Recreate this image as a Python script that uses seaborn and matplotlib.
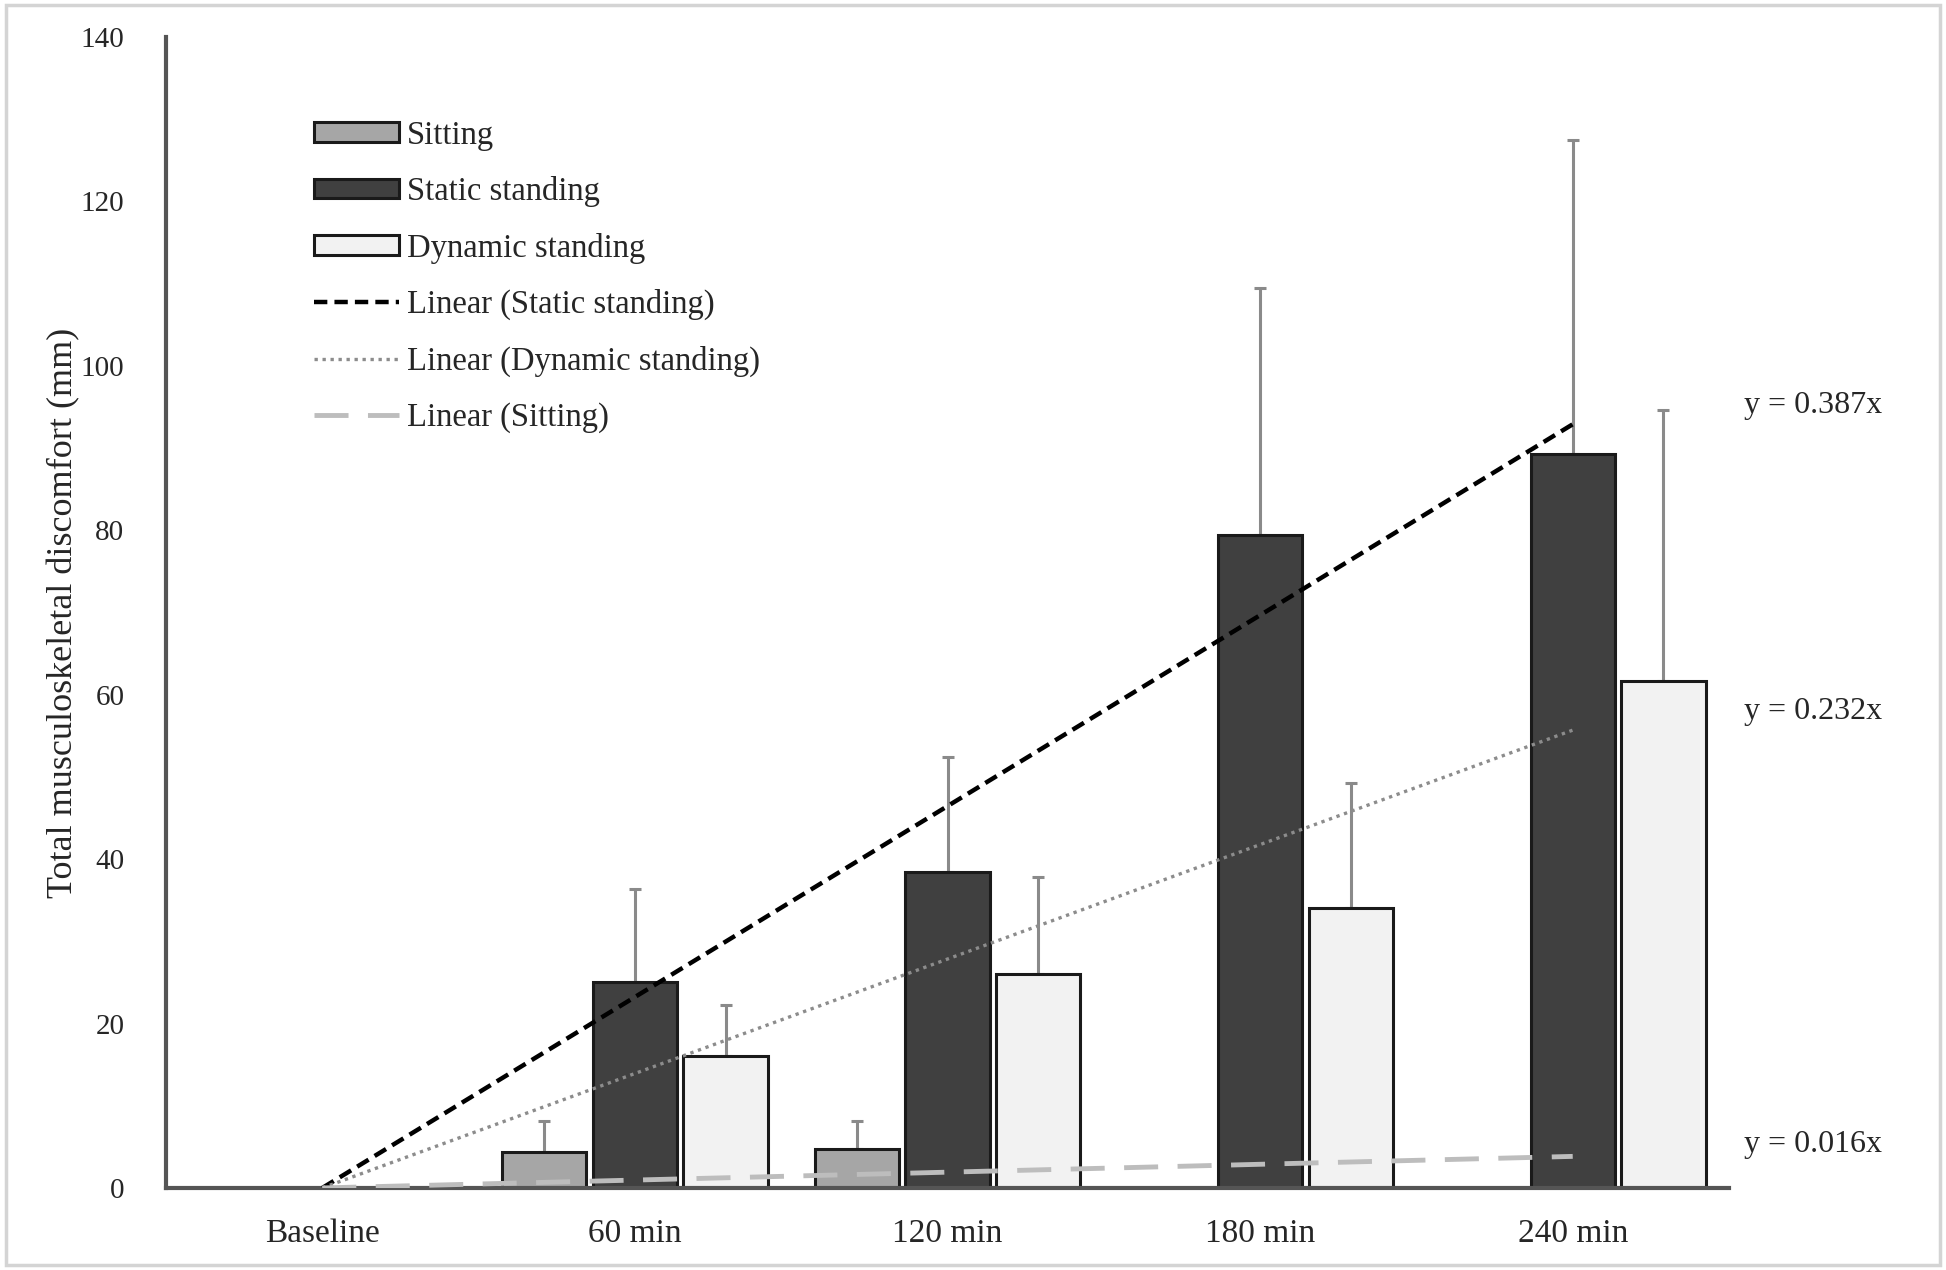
import numpy as np
import pandas as pd
import matplotlib
matplotlib.use("Agg")
import matplotlib.pyplot as plt
import seaborn as sns
from matplotlib.patches import Rectangle
from matplotlib.lines import Line2D
from matplotlib.patches import Patch

# ---------------- data ----------------
categories = ["Baseline", "60 min", "120 min", "180 min", "240 min"]
minutes = [0, 60, 120, 180, 240]
groups = ["Sitting", "Static standing", "Dynamic standing"]
sitting = [0.0, 4.4, 4.7, 0.0, 0.0]
sitting_err = [0.0, 3.8, 3.5, 0.0, 0.0]
static = [0.0, 25.0, 38.4, 79.4, 89.3]
static_err = [0.0, 11.4, 14.0, 30.0, 38.2]
dynamic = [0.0, 16.0, 26.0, 34.1, 61.6]
dynamic_err = [0.0, 6.2, 11.8, 15.2, 33.0]
slopes = {"Static standing": 0.387, "Dynamic standing": 0.232, "Sitting": 0.016}
equations = ["y = 0.387x", "y = 0.232x", "y = 0.016x"]
eq_y = [95.2, 57.9, 5.3]

# ---------------- style ----------------
sns.set_style("white")
plt.rcParams["font.family"] = ["Liberation Serif", "DejaVu Serif"]
text_col = "#262626"

df = pd.DataFrame({
    "time": np.repeat(categories, 3),
    "group": groups * len(categories),
    "value": [v for trip in zip(sitting, static, dynamic) for v in trip],
})

fill = {"Sitting": "#a6a6a6", "Static standing": "#404040", "Dynamic standing": "#f2f2f2"}

fig = plt.figure(figsize=(19.46, 12.70), dpi=100)
ax = fig.add_axes([0.0853, 0.0646, 0.8032, 0.9064])

sns.barplot(data=df, x="time", y="value", hue="group", order=categories,
            hue_order=groups, palette=fill, width=0.87, gap=0.07,
            edgecolor="#1a1a1a", linewidth=2.2, errorbar=None, ax=ax,
            legend=False, zorder=2)

# error bars (upper only)
errs = {"Sitting": sitting_err, "Static standing": static_err, "Dynamic standing": dynamic_err}
vals = {"Sitting": sitting, "Static standing": static, "Dynamic standing": dynamic}
for gi, (g, cont) in enumerate(zip(groups, ax.containers)):
    for i, bar in enumerate(cont):
        if errs[g][i] <= 0:
            continue
        xc = bar.get_x() + bar.get_width() / 2
        ax.errorbar(xc, vals[g][i], yerr=[[0], [errs[g][i]]], fmt="none",
                    ecolor="#8a8a8a", elinewidth=2.2, capsize=4, capthick=2.2,
                    zorder=1.5)

# trend lines
pos = np.arange(len(categories))
mins = np.array(minutes)
ax.plot(pos, slopes["Static standing"] * mins, color="black", lw=3.2,
        dashes=(3.0, 1.6), zorder=4)
ax.plot(pos, slopes["Dynamic standing"] * mins, color="#8c8c8c", lw=2.4,
        dashes=(1.0, 1.4), zorder=4)
ax.plot(pos, slopes["Sitting"] * mins, color="#bdbdbd", lw=3.5,
        dashes=(7, 4), zorder=4)

for t, yv in zip(equations, eq_y):
    ax.text(4.77, yv, t, ha="center", va="center", fontsize=23,
            color=text_col, clip_on=False)

# axes
ax.set_xlim(-0.5, 4.5)
ax.set_ylim(0, 140)
ax.set_yticks(np.arange(0, 141, 20))
ax.tick_params(axis="y", direction="in", length=9, width=2, color="#555555",
               pad=30, labelsize=21, labelcolor=text_col)
ax.tick_params(axis="x", length=0, pad=22, labelsize=24, labelcolor=text_col)
ax.set_xlabel("")
ax.set_ylabel("Total musculoskeletal discomfort (mm)", fontsize=26, color=text_col)
ax.yaxis.set_label_coords(-0.055, 0.5)
for s in ["top", "right"]:
    ax.spines[s].set_visible(False)
for s in ["left", "bottom"]:
    ax.spines[s].set_color("#555555")
    ax.spines[s].set_linewidth(3)

# legend
handles = [
    Patch(facecolor=fill["Sitting"], edgecolor="#1a1a1a", linewidth=2.2),
    Patch(facecolor=fill["Static standing"], edgecolor="#1a1a1a", linewidth=2.2),
    Patch(facecolor=fill["Dynamic standing"], edgecolor="#1a1a1a", linewidth=2.2),
    Line2D([], [], color="black", lw=3.2, dashes=(3.0, 1.6)),
    Line2D([], [], color="#8c8c8c", lw=2.4, dashes=(1.0, 1.4)),
    Line2D([], [], color="#bdbdbd", lw=3.5, dashes=(7, 4)),
]
labels = ["Sitting", "Static standing", "Dynamic standing",
          "Linear (Static standing)", "Linear (Dynamic standing)", "Linear (Sitting)"]
leg = ax.legend(handles, labels, loc="upper left", bbox_to_anchor=(0.0865, 0.939),
                frameon=False, fontsize=23.5, handlelength=2.6, handleheight=0.55,
                labelspacing=0.78, handletextpad=0.25, borderaxespad=0)
for t in leg.get_texts():
    t.set_color(text_col)

# light outer frame
fig.patches.append(Rectangle((0.003, 0.004), 0.994, 0.992, transform=fig.transFigure,
                             fill=False, edgecolor="#d4d4d4", linewidth=2.5))

fig.savefig("out.png", dpi=100, facecolor="white")
